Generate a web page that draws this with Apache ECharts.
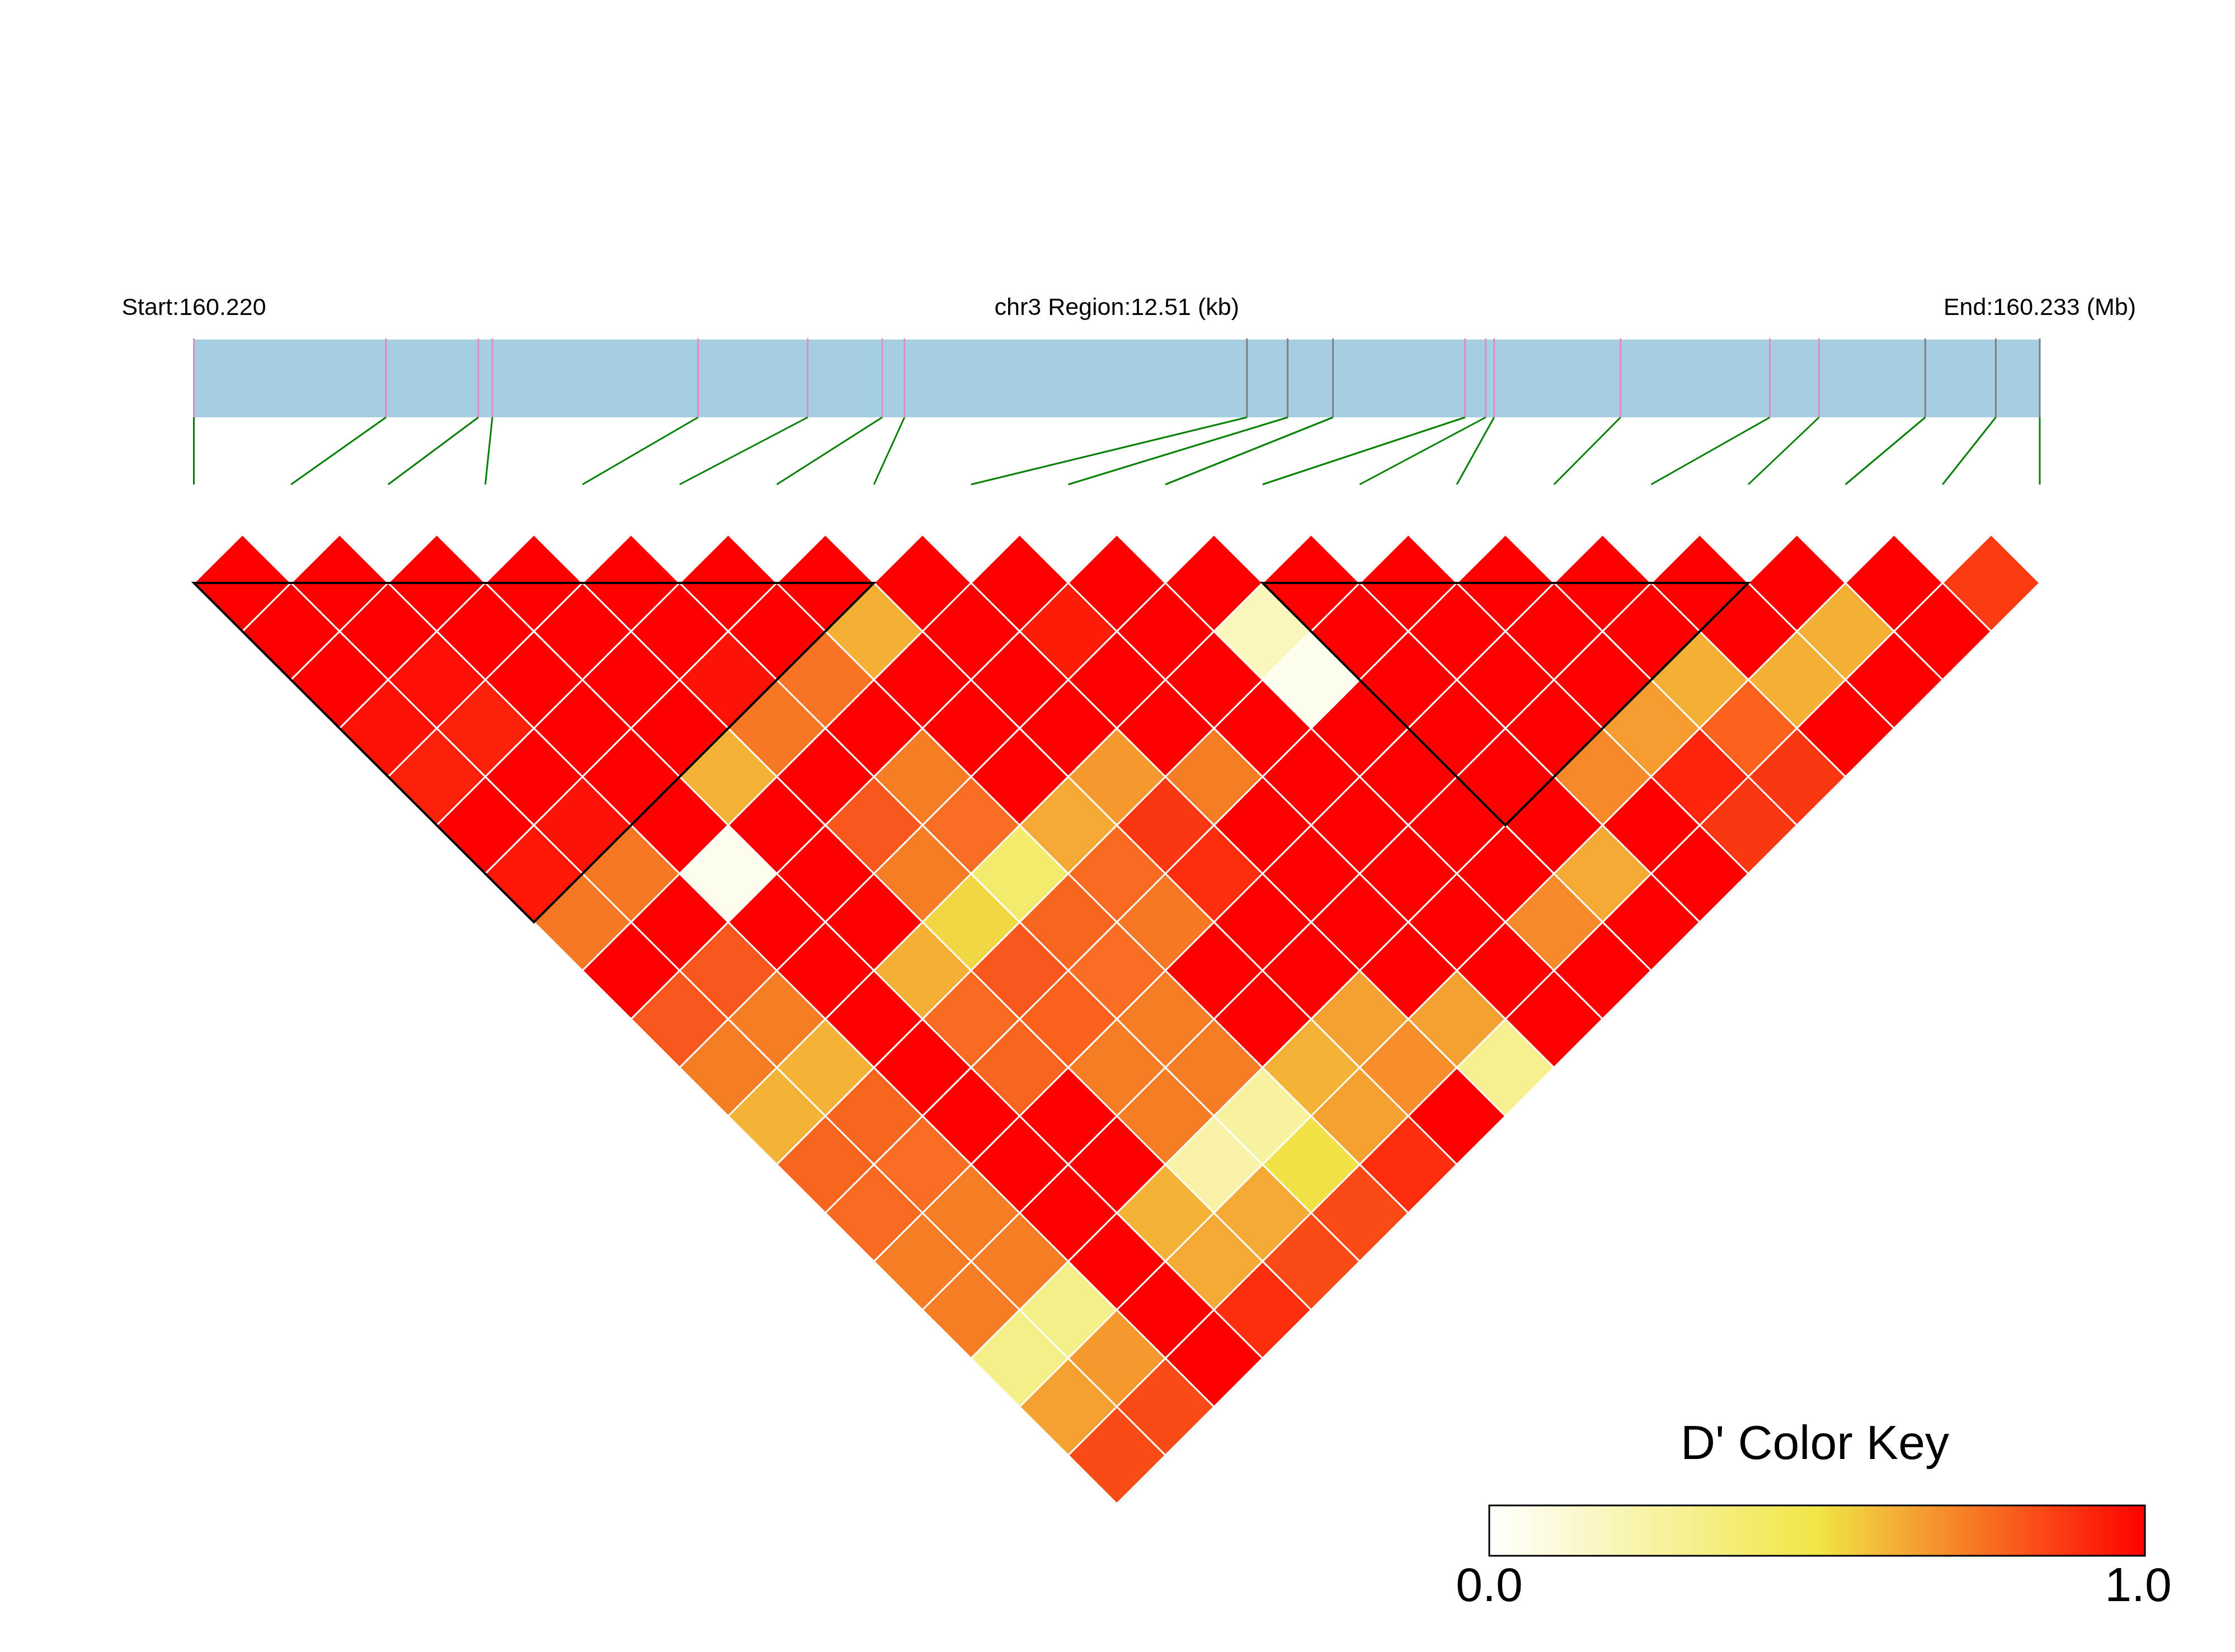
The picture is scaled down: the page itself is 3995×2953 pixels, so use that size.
<!DOCTYPE html>
<html><head><meta charset="utf-8">
<script src="https://cdn.jsdelivr.net/npm/echarts/dist/echarts.min.js"></script>
<style>html,body{margin:0;padding:0;background:#fff}#c{width:3995px;height:2953px}</style>
</head><body><div id="c"></div>
<script>
// ---------------- data ----------------
const chrom = 'chr3';
const snpPos = [160220300, 160221602, 160222228, 160222323, 160223717, 160224460, 160224965, 160225116,
  160227437, 160227713, 160228020, 160228915, 160229055, 160229112, 160229969, 160230981, 160231314,
  160232034, 160232512, 160232810];
const snpInBlock = [1,1,1,1,1,1,1,1,0,0,0,1,1,1,1,1,1,0,0,0];
const blocks = [[0, 7], [11, 16]];
// D' values along each diagonal: dPrimeLag[r-1][i] = D'(snp i, snp i+r)
const dPrimeLag = [
  [1,1,1,1,1,1,1,1,1,1,1,1,1,1,1,1,1,1,0.87],
  [1,1,1,1,1,1,0.62,1,0.94,1,0.18,1,1,1,1,1,0.62,1],
  [1,0.97,1,1,0.96,0.75,1,1,1,1,0.05,1,1,1,0.62,0.62,1],
  [0.96,0.93,1,1,0.74,1,1,1,1,1,1,1,1,0.66,0.79,1],
  [0.93,1,1,0.61,1,0.73,1,0.67,0.73,1,1,1,0.70,0.92,0.88],
  [1,0.96,1,1,0.81,0.76,0.63,0.88,1,1,1,1,1,0.88],
  [0.95,0.74,0.05,1,0.73,0.40,0.77,0.90,1,1,1,0.63,1],
  [0.74,1,1,1,0.53,0.78,0.74,1,1,1,0.70,1],
  [1,0.81,1,0.62,0.81,0.76,1,1,1,1,1],
  [0.81,0.73,1,0.77,0.79,0.73,1,0.65,0.65,1],
  [0.73,0.61,1,0.78,0.73,0.73,0.61,0.69,0.30],
  [0.61,0.78,1,1,0.73,0.26,0.65,1],
  [0.78,0.76,1,1,0.24,0.51,0.90],
  [0.77,0.73,1,0.61,0.63,0.84],
  [0.73,0.73,1,0.63,0.84],
  [0.73,0.32,1,0.90],
  [0.32,0.67,1],
  [0.65,0.84],
  [0.84]
];
const keyStops = [[0, '#FFFFFF'], [0.5, '#F0E646'], [1, '#FF0000']];
const keyTicks = ['0.0', '1.0'];
const keyTitle = "D' Color Key";

// ---------------- helpers ----------------
function hex2rgb(h){return [parseInt(h.substr(1,2),16),parseInt(h.substr(3,2),16),parseInt(h.substr(5,2),16)];}
function dColor(v){
  for (let k = 1; k < keyStops.length; k++) {
    if (v <= keyStops[k][0]) {
      const a = keyStops[k-1], b = keyStops[k];
      const t = (v - a[0]) / (b[0] - a[0]);
      const ca = hex2rgb(a[1]), cb = hex2rgb(b[1]);
      const c = ca.map((x, n) => Math.round(x + (cb[n] - x) * t));
      return 'rgb(' + c.join(',') + ')';
    }
  }
  return keyStops[keyStops.length-1][1];
}
const nSnp = snpPos.length;
const regionStart = snpPos[0], regionEnd = snpPos[nSnp-1];
const span = regionEnd - regionStart;

const cellData = [];
dPrimeLag.forEach((row, r) => row.forEach((v, i) => cellData.push([i, i + r + 1, v])));
const snpData = snpPos.map((p, i) => [p, i, snpInBlock[i]]);

const PX_L = 346.5, PX_R = 3646;
const chart = echarts.init(document.getElementById('c'), null, {renderer: 'canvas'});
const FONT = '"Liberation Sans", Arial, Helvetica, sans-serif';

chart.setOption({
  backgroundColor: '#ffffff',
  animation: false,
  grid: [
    {left: PX_L, right: 3995 - PX_R, top: 1042, bottom: 2953 - 2688},
    {left: PX_L, right: 3995 - PX_R, top: 607, height: 259}
  ],
  xAxis: [
    {type: 'value', gridIndex: 0, min: 0, max: nSnp - 1, show: false},
    {type: 'value', gridIndex: 1, min: regionStart, max: regionEnd, show: false}
  ],
  yAxis: [
    {type: 'value', gridIndex: 0, min: 0, max: nSnp - 1, inverse: true, show: false},
    {type: 'value', gridIndex: 1, min: 0, max: 259 / 139, inverse: true, show: false}
  ],
  series: [
    { // region bar
      type: 'custom', xAxisIndex: 1, yAxisIndex: 1, silent: true,
      data: [[regionStart, regionEnd]],
      renderItem: function (params, api) {
        const a = api.coord([api.value(0), 0]), b = api.coord([api.value(1), 1]);
        return {type: 'rect', shape: {x: a[0], y: a[1], width: b[0] - a[0], height: b[1] - a[1]},
          style: {fill: '#A6CEE3'}};
      }
    },
    { // SNP ticks in bar
      type: 'custom', xAxisIndex: 1, yAxisIndex: 1, silent: true, z: 3,
      data: snpData,
      renderItem: function (params, api) {
        const a = api.coord([api.value(0), 0]), b = api.coord([api.value(0), 1]);
        return {type: 'line', shape: {x1: a[0], y1: a[1] - 2, x2: b[0], y2: b[1]},
          style: {stroke: api.value(2) ? '#E48AC4' : '#7E7E7E', lineWidth: 3}};
      }
    },
    { // connectors to evenly spaced heatmap positions
      type: 'custom', xAxisIndex: 1, yAxisIndex: 1, silent: true, z: 3,
      data: snpData,
      renderItem: function (params, api) {
        const idx = api.value(1);
        const a = api.coord([api.value(0), 1]);
        const b = api.coord([regionStart + idx * span / (nSnp - 1), 259 / 139]);
        return {type: 'line', shape: {x1: a[0], y1: a[1], x2: b[0], y2: b[1]},
          style: {stroke: '#008000', lineWidth: 3}};
      }
    },
    { // LD cells
      type: 'custom', xAxisIndex: 0, yAxisIndex: 0, silent: true, z: 2,
      data: cellData,
      renderItem: function (params, api) {
        const i = api.value(0), j = api.value(1), v = api.value(2);
        const cx = (i + j) / 2, r = j - i;
        const pts = [api.coord([cx, r - 2]), api.coord([cx + 0.5, r - 1]), api.coord([cx, r]), api.coord([cx - 0.5, r - 1])];
        return {type: 'polygon', shape: {points: pts}, style: {fill: dColor(v), stroke: '#ffffff', lineWidth: 3}};
      }
    },
    { // haplotype block outlines
      type: 'custom', xAxisIndex: 0, yAxisIndex: 0, silent: true, z: 5,
      data: blocks,
      renderItem: function (params, api) {
        const a = api.value(0), b = api.value(1);
        const pts = [api.coord([a, 0]), api.coord([b, 0]), api.coord([(a + b) / 2, b - a])];
        return {type: 'polygon', shape: {points: pts}, style: {fill: 'none', stroke: '#000000', lineWidth: 4}};
      }
    }
  ],
  graphic: [
    {type: 'text', x: PX_L, y: 551, z: 10, style: {text: 'Start:' + (regionStart / 1e6).toFixed(3), font: '43px ' + FONT, fill: '#000', textAlign: 'center', textVerticalAlign: 'middle'}},
    {type: 'text', x: (PX_L + PX_R) / 2, y: 551, z: 10, style: {text: chrom + ' Region:' + (span / 1000).toFixed(2) + ' (kb)', font: '43px ' + FONT, fill: '#000', textAlign: 'center', textVerticalAlign: 'middle'}},
    {type: 'text', x: PX_R, y: 551, z: 10, style: {text: 'End:' + (regionEnd / 1e6).toFixed(3) + ' (Mb)', font: '43px ' + FONT, fill: '#000', textAlign: 'center', textVerticalAlign: 'middle'}},
    {type: 'text', x: 3244, y: 2584, z: 10, style: {text: keyTitle, font: '86px ' + FONT, fill: '#000', textAlign: 'center', textVerticalAlign: 'middle'}},
    {type: 'rect', z: 10, shape: {x: 2662, y: 2691, width: 1172, height: 90},
      style: {fill: new echarts.graphic.LinearGradient(0, 0, 1, 0, keyStops.map(s => ({offset: s[0], color: s[1]}))), stroke: '#000', lineWidth: 3}},
    {type: 'text', x: 2662, y: 2838, z: 10, style: {text: keyTicks[0], font: '86px ' + FONT, fill: '#000', textAlign: 'center', textVerticalAlign: 'middle'}},
    {type: 'text', x: 3822, y: 2838, z: 10, style: {text: keyTicks[1], font: '86px ' + FONT, fill: '#000', textAlign: 'center', textVerticalAlign: 'middle'}}
  ]
});
</script>
</body></html>
